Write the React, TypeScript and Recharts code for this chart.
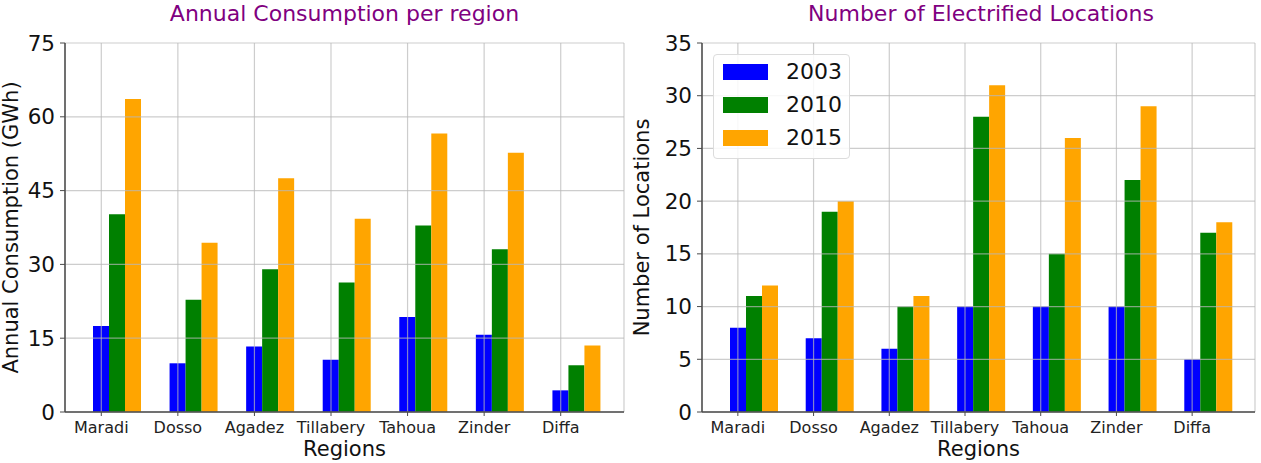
import React from 'react';
import { BarChart, Bar, XAxis, YAxis, CartesianGrid } from 'recharts';

const regions = ['Maradi', 'Dosso', 'Agadez', 'Tillabery', 'Tahoua', 'Zinder', 'Diffa'];
const years = ['2003', '2010', '2015'];
const yearColors = ['#0000ff', '#008000', '#ffa500'];

// Annual consumption (GWh)
const consumption2003 = [17.5, 9.9, 13.3, 10.6, 19.3, 15.7, 4.4];
const consumption2010 = [40.2, 22.8, 29.0, 26.3, 37.9, 33.1, 9.5];
const consumption2015 = [63.6, 34.4, 47.5, 39.3, 56.6, 52.7, 13.5];
const consumptionTicks = [0, 15, 30, 45, 60, 75];

// Number of electrified locations
const locations2003 = [8, 7, 6, 10, 10, 10, 5];
const locations2010 = [11, 19, 10, 28, 15, 22, 17];
const locations2015 = [12, 20, 11, 31, 26, 29, 18];
const locationTicks = [0, 5, 10, 15, 20, 25, 30, 35];

const FONT = '"DejaVu Sans", Verdana, sans-serif';
const SPINE = '#4a4a4a';

const buildRows = (a: number[], b: number[], c: number[]) =>
  regions.map((name, i) => ({ name, y2003: a[i], y2010: b[i], y2015: c[i] }));

const consumptionRows = buildRows(consumption2003, consumption2010, consumption2015);
const locationRows = buildRows(locations2003, locations2010, locations2015);

type PanelProps = {
  rows: any[];
  ticks: number[];
  yLabel: string;
  yAxisWidth: number;
};

const Panel = ({ rows, ticks, yLabel, yAxisWidth }: PanelProps) => {
  const top = ticks[ticks.length - 1];
  return (
    <BarChart
      width={630}
      height={463}
      data={rows}
      margin={{ top: 43, right: 6, bottom: 0, left: 0 }}
      barGap={0}
      barSize={16}
    >
      {/* visible axis: ticks and grid sit on the first bar of each group */}
      <XAxis
        dataKey="name"
        padding={{ left: -2, right: 25 }}
        height={51}
        tickSize={4}
        tickMargin={6}
        interval={0}
        tick={{ fontSize: 16, fill: '#222', fontFamily: FONT }}
        stroke={SPINE}
        axisLine={{ stroke: SPINE, strokeWidth: 1.5 }}
        label={{ value: 'Regions', position: 'insideBottom', offset: 7, fontSize: 21, fill: '#111', fontFamily: FONT }}
      />
      {/* hidden axis for the bars, shifted so the group starts at the tick */}
      <XAxis xAxisId="bars" dataKey="name" hide padding={{ left: 14, right: 9 }} />
      <XAxis xAxisId="frameTop" orientation="top" dataKey="name" height={0} tick={false} tickLine={false} axisLine={{ stroke: SPINE, strokeWidth: 1.5 }} />
      <YAxis
        domain={[0, top]}
        ticks={ticks}
        width={yAxisWidth}
        tickSize={5}
        tickMargin={5}
        tick={{ fontSize: 21.5, fill: '#111', fontFamily: FONT }}
        stroke={SPINE}
        axisLine={{ stroke: SPINE, strokeWidth: 1.5 }}
        label={{ value: yLabel, angle: -90, position: 'insideLeft', offset: 11, fontSize: 21, fill: '#111', fontFamily: FONT, style: { textAnchor: 'middle' } }}
      />
      <YAxis yAxisId="frameRight" orientation="right" width={0} tick={false} tickLine={false} axisLine={{ stroke: SPINE, strokeWidth: 1.5 }} />
      {years.map((yr, i) => (
        <Bar key={yr} xAxisId="bars" dataKey={`y${yr}`} fill={yearColors[i]} isAnimationActive={false} />
      ))}
      {/* matplotlib draws the grid over the bars */}
      <CartesianGrid stroke="#b8b8b8" strokeOpacity={0.7} strokeWidth={1.2} {...({ zIndex: 400 } as any)} />
    </BarChart>
  );
};

const titleStyle: React.CSSProperties = {
  position: 'absolute',
  top: 0,
  textAlign: 'center',
  fontFamily: FONT,
  fontSize: 22,
  lineHeight: '28px',
  color: '#800080',
};

const Legend = () => (
  <div
    style={{
      position: 'absolute',
      left: 713,
      top: 54,
      width: 137,
      height: 105,
      boxSizing: 'border-box',
      border: '1px solid #dcdcdc',
      borderRadius: 4,
      background: 'rgba(255,255,255,0.85)',
      fontFamily: FONT,
      fontSize: 22,
      color: '#111',
    }}
  >
    {years.map((yr, i) => (
      <div key={yr} style={{ position: 'absolute', left: 9, top: 9 + i * 33, height: 16, display: 'flex', alignItems: 'center' }}>
        <div style={{ width: 45, height: 16, background: yearColors[i] }} />
        <span style={{ marginLeft: 18, lineHeight: '16px' }}>{yr}</span>
      </div>
    ))}
  </div>
);

export default function App() {
  return (
    <div style={{ position: 'absolute', left: 0, top: 0, width: 1261, height: 463, background: '#fff', overflow: 'hidden' }}>
      <div style={{ ...titleStyle, left: 65, width: 559 }}>Annual Consumption per region</div>
      <div style={{ ...titleStyle, left: 702, width: 558 }}>Number of Electrified Locations</div>
      <div style={{ position: 'absolute', left: 0, top: 0 }}>
        <Panel rows={consumptionRows} ticks={consumptionTicks} yLabel="Annual Consumption (GWh)" yAxisWidth={65} />
      </div>
      <div style={{ position: 'absolute', left: 631, top: 0 }}>
        <Panel rows={locationRows} ticks={locationTicks} yLabel="Number of Locations" yAxisWidth={71} />
      </div>
      <Legend />
    </div>
  );
}
